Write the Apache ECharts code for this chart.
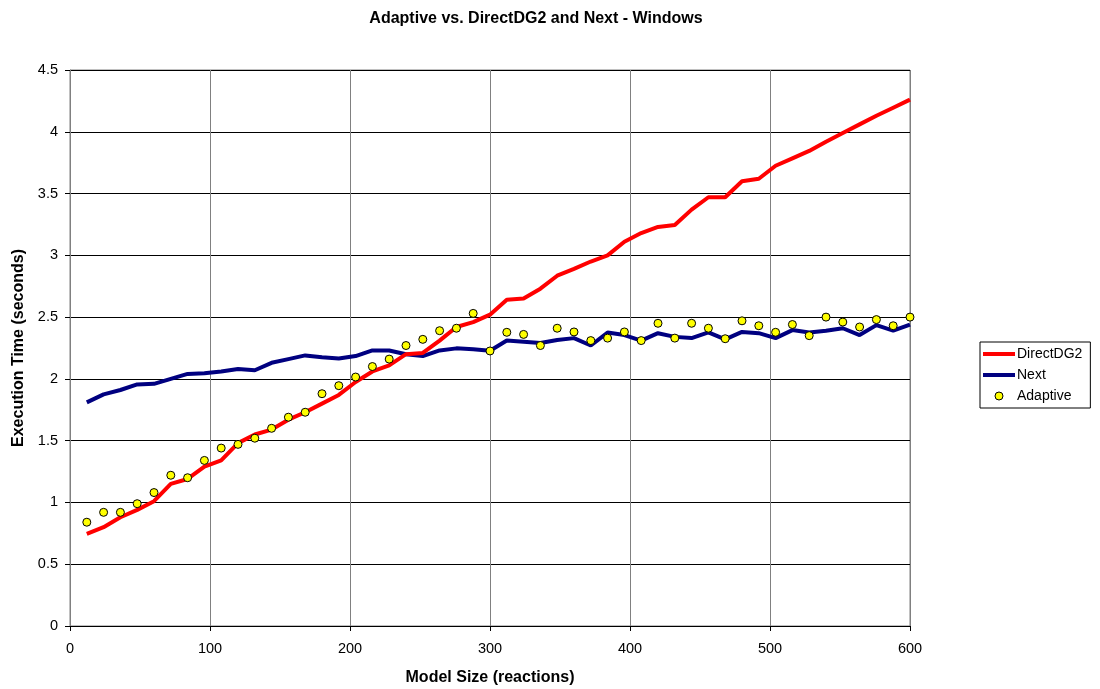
<!DOCTYPE html>
<html>
<head>
<meta charset="utf-8">
<script src="https://cdn.jsdelivr.net/npm/echarts@6/dist/echarts.min.js"></script>
<style>
html,body{margin:0;padding:0;background:#fff;}
#chart{width:1100px;height:689px;}
</style>
</head>
<body>
<div id="chart"></div>
<script>
const modelSizes = [12,24,36,48,60,72,84,96,108,120,132,144,156,168,180,192,204,216,228,240,252,264,276,288,300,312,324,336,348,360,372,384,396,408,420,432,444,456,468,480,492,504,516,528,540,552,564,576,588,600];
const directDG2 = [0.745,0.80,0.88,0.94,1.01,1.15,1.19,1.29,1.34,1.48,1.55,1.59,1.67,1.73,1.80,1.87,1.975,2.06,2.11,2.20,2.21,2.31,2.42,2.46,2.52,2.64,2.65,2.73,2.835,2.89,2.95,3.00,3.11,3.18,3.23,3.245,3.37,3.47,3.47,3.60,3.62,3.725,3.785,3.845,3.92,3.99,4.06,4.13,4.195,4.26];
const next = [1.81,1.875,1.91,1.955,1.96,2.00,2.04,2.045,2.06,2.08,2.07,2.13,2.16,2.19,2.175,2.165,2.185,2.23,2.23,2.20,2.185,2.23,2.247,2.24,2.228,2.31,2.30,2.29,2.315,2.33,2.27,2.375,2.355,2.31,2.37,2.34,2.33,2.377,2.32,2.38,2.37,2.33,2.395,2.375,2.39,2.41,2.355,2.435,2.39,2.44];
const adaptive = [0.84,0.92,0.92,0.99,1.08,1.22,1.20,1.34,1.44,1.47,1.52,1.60,1.69,1.73,1.88,1.945,2.015,2.10,2.16,2.27,2.32,2.39,2.41,2.53,2.226,2.377,2.36,2.27,2.41,2.38,2.31,2.33,2.38,2.31,2.45,2.33,2.45,2.41,2.325,2.47,2.43,2.377,2.44,2.35,2.50,2.46,2.42,2.48,2.43,2.50];
const xTicks = [0,100,200,300,400,500,600];
const yTicks = [0,0.5,1,1.5,2,2.5,3,3.5,4,4.5];

const pairs = arr => modelSizes.map((x,i)=>[x,arr[i]]);
const font = 'Liberation Sans, Arial, sans-serif';
const lineIcon = 'path://M0,0L32,0L32,4L0,4Z';

const chart = echarts.init(document.getElementById('chart'), null, {renderer:'canvas'});
chart.setOption({
  animation:false,
  backgroundColor:'#fff',
  title:{
    text:'Adaptive vs. DirectDG2 and Next - Windows',
    left:531, top:6, textAlign:'center',
    textStyle:{fontFamily:font,fontSize:16,fontWeight:'bold',color:'#000'}
  },
  legend:{
    orient:'vertical',
    left:980, top:342,
    padding:[5,8,5,3],
    itemGap:7,
    itemWidth:32, itemHeight:8,
    symbolKeepAspect:true,
    borderColor:'#000', borderWidth:1, borderRadius:0,
    textStyle:{fontFamily:font,fontSize:14,color:'#000',padding:[0,0,0,-3]},
    data:[
      {name:'DirectDG2',icon:lineIcon,itemStyle:{color:'#ff0000'}},
      {name:'Next',icon:lineIcon,itemStyle:{color:'#000080'}},
      {name:'Adaptive',icon:'circle',itemStyle:{color:'#ffff00',borderColor:'#000',borderWidth:1}}
    ]
  },
  grid:{left:70,right:190,top:70,bottom:63,containLabel:false,outerBoundsMode:'none',show:true,borderColor:'#808080',borderWidth:1},
  xAxis:{
    type:'value',min:0,max:600,interval:100,
    name:'Model Size (reactions)',nameLocation:'middle',nameGap:44,
    nameTextStyle:{fontFamily:font,fontSize:16,fontWeight:'bold',color:'#000'},
    axisLine:{show:true,onZero:false,lineStyle:{color:'#000',width:1}},
    axisTick:{show:true,length:5,lineStyle:{color:'#000'}},
    axisLabel:{fontFamily:font,fontSize:14.5,color:'#000',margin:15,formatter:v=>xTicks.includes(v)?String(v):''},
    splitLine:{show:true,lineStyle:{color:'#808080',width:1}}
  },
  yAxis:{
    type:'value',min:0,max:4.5,interval:0.5,
    name:'Execution Time (seconds)',nameLocation:'middle',nameGap:41,
    nameTextStyle:{fontFamily:font,fontSize:16,fontWeight:'bold',color:'#000'},
    axisLine:{show:true,lineStyle:{color:'#808080',width:1}},
    axisTick:{show:true,length:5,lineStyle:{color:'#000'}},
    axisLabel:{fontFamily:font,fontSize:14.5,color:'#000',margin:12,formatter:v=>yTicks.includes(v)?String(v):''},
    splitLine:{show:true,lineStyle:{color:'#000',width:1}}
  },
  series:[
    {name:'DirectDG2',type:'line',data:pairs(directDG2),showSymbol:false,symbol:'none',
     lineStyle:{color:'#ff0000',width:4},itemStyle:{color:'#ff0000'},z:3},
    {name:'Next',type:'line',data:pairs(next),showSymbol:false,symbol:'none',
     lineStyle:{color:'#000080',width:4},itemStyle:{color:'#000080'},z:2},
    {name:'Adaptive',type:'scatter',data:pairs(adaptive),symbol:'circle',symbolSize:8,
     itemStyle:{color:'#ffff00',borderColor:'#000',borderWidth:1,opacity:1},z:4}
  ]
});
</script>
</body>
</html>
